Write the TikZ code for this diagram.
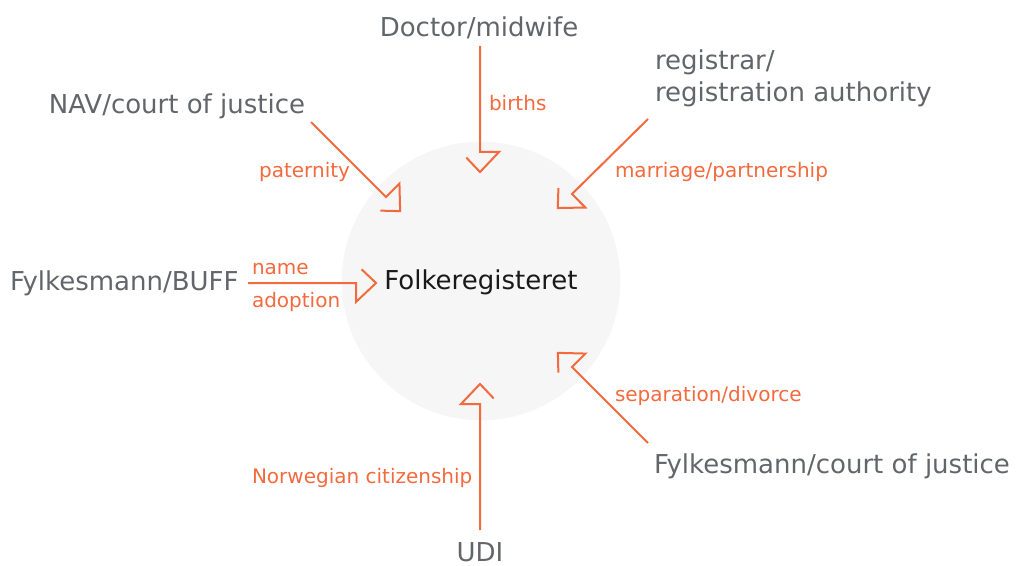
\documentclass[tikz,border=0pt]{standalone}
\usepackage{fontspec}
\setmainfont{DejaVu Sans}
\usetikzlibrary{calc}

\definecolor{flowc}{HTML}{F26A3D}
\definecolor{srcc}{HTML}{62666A}
\definecolor{hubc}{HTML}{F5F6F5}

\newcommand{\headw}{14.25pt}
\newcommand{\headh}{15pt}
% open arrow head: shaft, side corner, tip, part of the other side
\newcommand{\inflow}[3]{%
  \coordinate (#2tip) at ($(#2)!-\headh!(#1)$);
  \coordinate (#2far) at ($(#2)!-\headw!#3:(#1)$);
  \draw[feed] (#1) -- (#2) -- ($(#2)!\headw!#3:(#1)$) -- (#2tip) -- ($(#2tip)!0.72!(#2far)$);
}

\begin{document}
\begin{tikzpicture}
[x=0.75pt,y=-0.75pt,
 every node/.style={inner sep=0pt,outer sep=0pt,text height=1.1em,text depth=0pt},
 src/.style={text=srcc,text height=1.3em,font=\fontsize{19.5}{24}\selectfont},
 lbl/.style={text=flowc,font=\fontsize{15}{18}\selectfont},
 hub/.style={circle,fill=hubc,minimum size=209pt,text=black!90,text height=1.3em,font=\fontsize{19.5}{24}\selectfont},
 feed/.style={draw=flowc,line width=1.5pt,miter limit=10}]

\useasboundingbox (0,0) rectangle (1019,566);

% register
\node[hub] (reg) at (481,281) {Folkeregisteret};

% sources
\node[src] (doc)  at (479,28)              {Doctor/midwife};
\node[src,text height=,text depth=,anchor=north west,align=left] (regist) at (655,50)
  {registrar/\\registration authority};
\node[src] (nav)  at (177,105)             {NAV/court of justice};
\node[src,anchor=west] (buff) at (10,282)  {Fylkesmann/BUFF};
\node[src,anchor=west] (fyl)  at (654,465) {Fylkesmann/court of justice};
\node[src] (udi)  at (480,553)             {UDI};

% arrows
\coordinate (birth0) at (480,46);  \coordinate (birth1) at (480,152);
\coordinate (pat0)   at (311,122); \coordinate (pat1)   at (386,197);
\coordinate (mar0)   at (648,119); \coordinate (mar1)   at (572,194);
\coordinate (name0)  at (248,283); \coordinate (name1)  at (356,283);
\coordinate (sep0)   at (648,443); \coordinate (sep1)   at (572,367);
\coordinate (cit0)   at (480,530); \coordinate (cit1)   at (480,404);
\inflow{birth0}{birth1}{-90}
\inflow{pat0}{pat1}{-90}
\inflow{mar0}{mar1}{-90}
\inflow{name0}{name1}{90}
\inflow{sep0}{sep1}{90}
\inflow{cit0}{cit1}{-90}

% labels
\node[lbl,anchor=west] (births)   at (489,103) {births};
\node[lbl,anchor=east] (paternity) at (350,170) {paternity};
\node[lbl,anchor=west] (marriage) at (615,170) {marriage/partnership};
\node[lbl,anchor=west] (name)     at (252,267) {name};
\node[lbl,anchor=west] (adoption) at (252,300) {adoption};
\node[lbl,anchor=west] (separation) at (615,394) {separation/divorce};
\node[lbl,anchor=west] (citizen)  at (252,476) {Norwegian citizenship};

\end{tikzpicture}
\end{document}
